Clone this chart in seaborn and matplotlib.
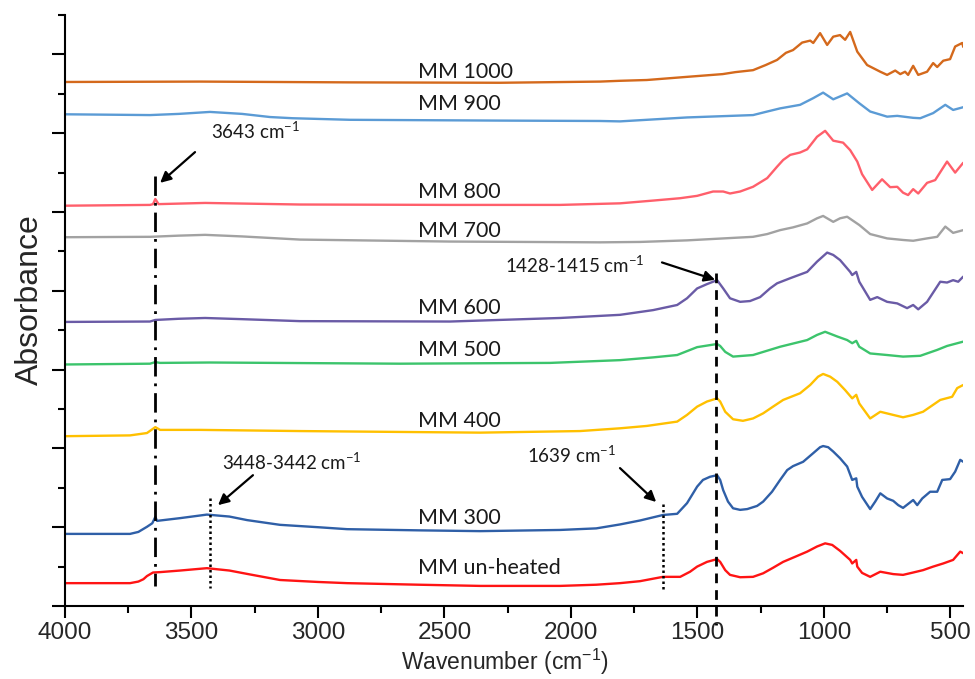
import matplotlib
matplotlib.use("Agg")
import matplotlib.pyplot as plt
import pandas as pd
import seaborn as sns
from matplotlib.ticker import MultipleLocator, NullFormatter

# ---- FTIR spectra (stacked, arbitrary absorbance units) ----
wn_unheated = [4000, 3743, 3710, 3690, 3676, 3652, 3624, 3545, 3439, 3350, 3268, 3150, 3000,
               2885, 2600, 2359, 2043, 1900, 1806, 1727, 1636, 1568, 1529, 1501, 1462, 1422,
               1410, 1390, 1371, 1331, 1280, 1240, 1201, 1161, 1106, 1066, 1027, 995, 967,
               936, 896, 888, 872, 868, 849, 817, 777, 726, 687, 647, 608, 568, 528, 489,
               461, 449]
ab_unheated = [0.58, 0.58, 0.62, 0.68, 0.76, 0.85, 0.86, 0.90, 0.96, 0.90, 0.80, 0.66, 0.61,
               0.58, 0.54, 0.51, 0.51, 0.54, 0.58, 0.63, 0.74, 0.74, 0.87, 1.00, 1.12, 1.19,
               1.12, 0.91, 0.79, 0.73, 0.74, 0.83, 0.97, 1.12, 1.27, 1.38, 1.51, 1.59, 1.55,
               1.40, 1.17, 1.08, 1.17, 1.00, 0.84, 0.74, 0.87, 0.81, 0.79, 0.85, 0.91, 1.00,
               1.08, 1.17, 1.38, 1.34]

wn_300 = [4000, 3743, 3710, 3676, 3655, 3643, 3636, 3624, 3545, 3439, 3350, 3280, 3150, 3000,
          2885, 2600, 2359, 2043, 1900, 1806, 1727, 1636, 1580, 1541, 1501, 1478, 1450, 1422,
          1410, 1398, 1379, 1359, 1331, 1303, 1264, 1240, 1205, 1173, 1145, 1122, 1082, 1042,
          1015, 1003, 983, 963, 936, 908, 888, 872, 868, 849, 817, 797, 777, 750, 726, 706,
          687, 667, 647, 631, 611, 580, 552, 532, 501, 481, 461, 449]
ab_300 = [1.83, 1.83, 1.88, 2.01, 2.10, 2.26, 2.16, 2.17, 2.23, 2.32, 2.27, 2.18, 2.06, 2.00,
          1.95, 1.92, 1.90, 1.93, 1.97, 2.07, 2.17, 2.31, 2.34, 2.61, 3.03, 3.20, 3.28, 3.32,
          3.20, 2.94, 2.65, 2.48, 2.44, 2.46, 2.54, 2.65, 2.90, 3.20, 3.45, 3.55, 3.66, 3.88,
          4.03, 4.06, 4.03, 3.92, 3.75, 3.54, 3.20, 3.24, 3.03, 2.77, 2.46, 2.65, 2.86, 2.73,
          2.67, 2.56, 2.49, 2.59, 2.69, 2.56, 2.73, 2.90, 2.90, 3.20, 3.22, 3.41, 3.71, 3.66]

wn_400 = [4000, 3743, 3676, 3643, 3624, 3466, 3071, 2359, 1964, 1806, 1700, 1580, 1541, 1501,
          1462, 1422, 1410, 1390, 1359, 1320, 1280, 1240, 1201, 1161, 1094, 1054, 1023, 1003,
          975, 947, 916, 888, 872, 860, 817, 777, 726, 687, 647, 608, 540, 493, 473, 449]
ab_400 = [4.31, 4.33, 4.39, 4.54, 4.47, 4.47, 4.44, 4.40, 4.44, 4.51, 4.57, 4.68, 4.85, 5.06,
          5.19, 5.27, 5.19, 4.93, 4.74, 4.70, 4.76, 4.89, 5.06, 5.23, 5.40, 5.61, 5.82, 5.89,
          5.82, 5.69, 5.48, 5.27, 5.36, 5.14, 4.76, 4.93, 4.85, 4.79, 4.85, 4.93, 5.23, 5.31,
          5.53, 5.61]

wn_500 = [4000, 3664, 3643, 3624, 3427, 2675, 2082, 1806, 1675, 1580, 1501, 1422, 1410, 1390,
          1359, 1280, 1173, 1066, 1027, 995, 947, 908, 888, 872, 860, 817, 750, 687, 619, 552,
          513, 449]
ab_500 = [6.13, 6.15, 6.19, 6.17, 6.18, 6.15, 6.17, 6.24, 6.31, 6.37, 6.57, 6.65, 6.60, 6.45,
          6.33, 6.37, 6.58, 6.75, 6.88, 6.96, 6.84, 6.75, 6.67, 6.73, 6.58, 6.41, 6.37, 6.33,
          6.35, 6.50, 6.60, 6.71]

wn_600 = [4000, 3664, 3643, 3550, 3446, 3300, 3071, 2478, 2043, 1806, 1675, 1580, 1541, 1501,
          1462, 1422, 1398, 1371, 1331, 1292, 1252, 1213, 1185, 1133, 1066, 1027, 987, 963,
          936, 896, 888, 872, 860, 817, 789, 750, 710, 671, 647, 627, 592, 540, 513, 489, 469,
          449]
ab_600 = [7.21, 7.22, 7.26, 7.29, 7.31, 7.28, 7.23, 7.22, 7.31, 7.39, 7.51, 7.64, 7.81, 8.06,
          8.17, 8.27, 8.06, 7.81, 7.72, 7.74, 7.84, 8.06, 8.19, 8.32, 8.48, 8.74, 8.97, 8.91,
          8.78, 8.48, 8.40, 8.48, 8.23, 7.77, 7.84, 7.72, 7.68, 7.56, 7.64, 7.53, 7.72, 8.23,
          8.21, 8.27, 8.23, 8.36]

wn_700 = [4000, 3664, 3550, 3446, 3300, 3071, 2478, 1885, 1727, 1541, 1280, 1224, 1173, 1122,
          1066, 1027, 1003, 963, 936, 908, 860, 817, 750, 687, 647, 592, 552, 520, 489, 449]
ab_700 = [9.36, 9.37, 9.40, 9.42, 9.38, 9.30, 9.25, 9.23, 9.24, 9.28, 9.37, 9.44, 9.54, 9.61,
          9.71, 9.84, 9.90, 9.75, 9.84, 9.88, 9.67, 9.44, 9.33, 9.29, 9.27, 9.33, 9.37, 9.63,
          9.47, 9.54]

wn_800 = [4000, 3664, 3652, 3643, 3630, 3446, 3071, 2478, 2043, 1806, 1675, 1568, 1501, 1438,
          1398, 1371, 1331, 1280, 1224, 1185, 1161, 1133, 1094, 1066, 1027, 995, 963, 924, 896,
          868, 849, 809, 770, 738, 710, 687, 667, 647, 627, 592, 560, 513, 481, 449]
ab_800 = [10.16, 10.18, 10.20, 10.33, 10.20, 10.23, 10.19, 10.18, 10.18, 10.22, 10.29, 10.35,
          10.41, 10.52, 10.52, 10.47, 10.52, 10.64, 10.86, 11.15, 11.32, 11.45, 11.51, 11.59,
          11.91, 12.06, 11.81, 11.76, 11.57, 11.28, 10.96, 10.56, 10.83, 10.63, 10.64, 10.49,
          10.43, 10.58, 10.47, 10.74, 10.81, 11.28, 11.00, 11.25]

wn_900 = [4000, 3664, 3550, 3427, 3300, 3189, 3100, 2873, 2280, 1885, 1806, 1541, 1280, 1224,
          1173, 1094, 1042, 1003, 963, 908, 860, 817, 750, 710, 647, 619, 568, 520, 489, 449]
ab_900 = [12.48, 12.46, 12.49, 12.54, 12.49, 12.41, 12.38, 12.34, 12.32, 12.31, 12.30, 12.40,
          12.46, 12.55, 12.63, 12.72, 12.89, 13.03, 12.86, 13.01, 12.76, 12.55, 12.42, 12.44,
          12.39, 12.38, 12.51, 12.72, 12.59, 12.66]

wn_1000 = [4000, 3466, 2873, 2280, 1885, 1806, 1700, 1541, 1400, 1350, 1280, 1230, 1185, 1150,
           1122, 1086, 1054, 1042, 1015, 987, 963, 936, 916, 896, 868, 829, 777, 750, 718, 698,
           679, 667, 647, 627, 592, 568, 552, 528, 501, 481, 453, 449]
ab_1000 = [13.30, 13.31, 13.29, 13.28, 13.31, 13.33, 13.35, 13.43, 13.50, 13.55, 13.60, 13.73,
           13.86, 14.04, 14.11, 14.30, 14.35, 14.29, 14.54, 14.24, 14.45, 14.49, 14.37, 14.57,
           14.07, 13.73, 13.56, 13.48, 13.59, 13.50, 13.56, 13.48, 13.71, 13.48, 13.56, 13.78,
           13.68, 13.84, 13.88, 14.20, 14.29, 14.19]

samples = ["MM un-heated", "MM 300", "MM 400", "MM 500", "MM 600",
           "MM 700", "MM 800", "MM 900", "MM 1000"]
colors = ["#FF1414", "#2F5FA7", "#FFC000", "#3CC46C", "#6A5BA6",
          "#A2A2A2", "#FF5F6B", "#5B9BD5", "#D4691C"]
label_wn = 2604
label_y = [0.96, 2.23, 4.70, 6.50, 7.56, 9.52, 10.51, 12.74, 13.55]

wn_all = [wn_unheated, wn_300, wn_400, wn_500, wn_600, wn_700, wn_800, wn_900, wn_1000]
ab_all = [ab_unheated, ab_300, ab_400, ab_500, ab_600, ab_700, ab_800, ab_900, ab_1000]

df = pd.concat(
    [pd.DataFrame({"wavenumber": w, "absorbance": a, "sample": s})
     for s, w, a in zip(samples, wn_all, ab_all)],
    ignore_index=True,
)

sns.set_style("ticks")
plt.rcParams["font.family"] = ["Liberation Sans", "DejaVu Sans"]
plt.rcParams["axes.linewidth"] = 1.5

fig = plt.figure(figsize=(9.75, 6.79), dpi=100)
ax = fig.add_axes([65 / 975, 73 / 679, 898 / 975, 591 / 679])

sns.lineplot(data=df, x="wavenumber", y="absorbance", hue="sample",
             palette=dict(zip(samples, colors)), estimator=None, sort=False,
             linewidth=1.7, legend=False, ax=ax)

ax.set_xlim(4000, 450)
ax.set_ylim(0, 15)
sns.despine(ax=ax)
for side in ("left", "bottom"):
    ax.spines[side].set_color("black")
    ax.spines[side].set_linewidth(1.5)

ax.xaxis.set_major_locator(MultipleLocator(500))
ax.xaxis.set_minor_locator(MultipleLocator(250))
ax.yaxis.set_major_locator(MultipleLocator(2))
ax.yaxis.set_minor_locator(MultipleLocator(1))
ax.yaxis.set_major_formatter(NullFormatter())
ax.tick_params(axis="x", which="major", length=8.5, width=1.5, color="black",
               labelsize=17.5, pad=3, direction="out", bottom=True)
ax.tick_params(axis="x", which="minor", length=5, width=1.5, color="black",
               direction="out", bottom=True)
ax.tick_params(axis="y", which="major", length=9.5, width=1.5, color="black",
               direction="out", left=True)
ax.tick_params(axis="y", which="minor", length=5, width=1.5, color="black",
               direction="out", left=True)
ax.set_xlabel("")
ax.set_ylabel("")

fig.text(505 / 975, 1 - 662 / 679, r"Wavenumber (cm$^{\mathregular{-1}}$)",
         ha="center", va="center", fontsize=16.5)
fig.text(30 / 975, 1 - 300 / 679, "Absorbance", rotation=90,
         ha="center", va="center", fontsize=23)

# sample names
for name, y in zip(samples, label_y):
    ax.text(label_wn, y, name, family="Lato", fontsize=15.5, ha="left",
            va="center", color="#1a1a1a")

# band markers
ann_font = dict(family="Lato", fontsize=13.5, color="#1a1a1a")
arrow = dict(arrowstyle="-|>", color="black", lw=1.6, mutation_scale=16,
             shrinkA=0, shrinkB=0)

ax.plot([3643, 3643], [10.91, 0.51], color="black", lw=2,
        linestyle=(0, (7, 2.5, 1, 2.5)), clip_on=False)
ax.text(3423, 12.06, r"3643 cm$^{\mathregular{-1}}$", ha="left", va="center", **ann_font)
ax.annotate("", xy=(3624, 10.74), xytext=(3486, 11.52), arrowprops=arrow)

ax.plot([1425, 1425], [8.45, -0.48], color="black", lw=2,
        linestyle=(0, (3.5, 2.5)), clip_on=False)
ax.text(2260, 8.65, r"1428-1415 cm$^{\mathregular{-1}}$", ha="left", va="center", **ann_font)
ax.annotate("", xy=(1430, 8.28), xytext=(1640, 8.72), arrowprops=arrow)

ax.plot([3427, 3427], [2.74, 0.46], color="black", lw=1.8,
        linestyle=(0, (1, 1.2)), clip_on=False)
ax.text(3379, 3.65, r"3448-3442 cm$^{\mathregular{-1}}$", ha="left", va="center", **ann_font)
ax.annotate("", xy=(3395, 2.56), xytext=(3257, 3.32), arrowprops=arrow)

ax.plot([1636, 1636], [2.59, 0.38], color="black", lw=1.8,
        linestyle=(0, (1, 1.2)), clip_on=False)
ax.text(2173, 3.83, r"1639 cm$^{\mathregular{-1}}$", ha="left", va="center", **ann_font)
ax.annotate("", xy=(1663, 2.64), xytext=(1806, 3.50), arrowprops=arrow)

fig.savefig("out.png", dpi=100)
